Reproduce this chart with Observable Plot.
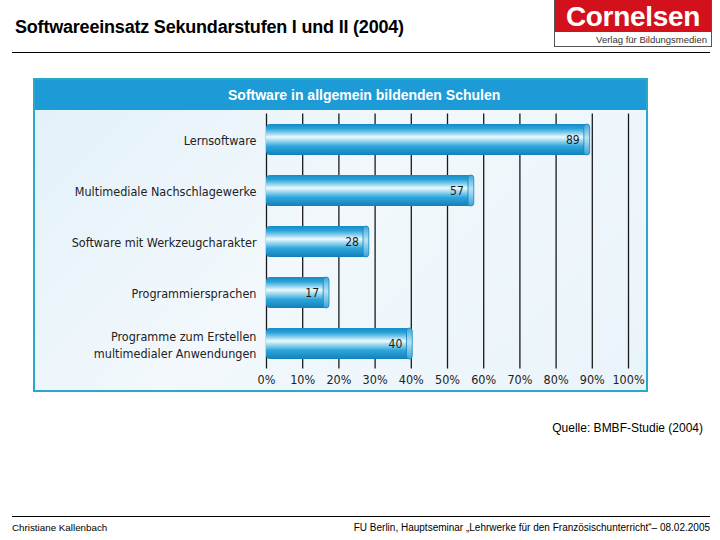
<!DOCTYPE html>
<html>
<head>
<meta charset="utf-8">
<script src="https://cdn.jsdelivr.net/npm/d3@7"></script>
<script src="https://cdn.jsdelivr.net/npm/@observablehq/plot@0.6"></script>
<style>
  html, body { margin: 0; padding: 0; background: #fff; }
  #page { position: relative; width: 720px; height: 540px; overflow: hidden; font-family: "Liberation Sans", Arial, sans-serif; }
  #title { position: absolute; left: 15px; top: 17px; font-size: 18px; font-weight: bold; color: #000; white-space: nowrap; letter-spacing: -0.2px; }
  .hr { position: absolute; height: 0; border-top: 1px solid #000; }
  #logo { position: absolute; left: 554px; top: 0px; width: 158px; height: 47px; border: 1px solid #555; border-top: none; box-sizing: border-box; background: #fff; }
  #logo .red { position: absolute; left: 0; top: 0; width: 100%; height: 32px; background: #d3111d; }
  #logo .red span { position: absolute; left: 0; top: 3px; width: 100%; color: #fff; font-weight: bold; font-size: 28px; line-height: 28px; text-align: center; letter-spacing: -0.3px; white-space: nowrap; }
  #logo .sub { position: absolute; right: 4px; top: 34px; font-size: 9.5px; color: #333; white-space: nowrap; }
  #panel { position: absolute; left: 33px; top: 78px; width: 615px; height: 314px; border: 2px solid #2aa7c9; box-sizing: border-box; background: #eaf5fb; }
  #head { position: absolute; left: 0; top: 0; width: 100%; height: 30px; background: #1d9bd7; color: #fff; font-weight: bold; font-size: 14px; line-height: 30px; }
  #head span { position: absolute; left: 193px; top: 0; white-space: nowrap; }
  #chart { position: absolute; left: 0; top: 30px; }
  #source { position: absolute; right: 17px; top: 421px; font-size: 12px; color: #000; white-space: nowrap; }
  #foot-l { position: absolute; left: 12px; top: 522px; font-size: 9.8px; color: #000; white-space: nowrap; }
  #foot-r { position: absolute; right: 10px; top: 522px; font-size: 10px; color: #000; white-space: nowrap; }
</style>
</head>
<body>
<div id="page">
  <div id="title">Softwareeinsatz Sekundarstufen I und II (2004)</div>
  <div id="logo"><div class="red"><span>Cornelsen</span></div><div class="sub">Verlag für Bildungsmedien</div></div>
  <div class="hr" style="left:12px; top:52px; width:698px;"></div>
  <div id="panel">
    <div id="head"><span>Software in allgemein bildenden Schulen</span></div>
    <div id="chart"></div>
  </div>
  <div id="source">Quelle: BMBF-Studie (2004)</div>
  <div class="hr" style="left:12px; top:516px; width:698px;"></div>
  <div id="foot-l">Christiane Kallenbach</div>
  <div id="foot-r">FU Berlin, Hauptseminar „Lehrwerke für den Französischunterricht“– 08.02.2005</div>
</div>
<script>
const categories = [
  "Lernsoftware",
  "Multimediale Nachschlagewerke",
  "Software mit Werkzeugcharakter",
  "Programmiersprachen",
  "Programme zum Erstellen\nmultimedialer Anwendungen"
];
const values = [89, 57, 28, 17, 40];
const tickValues = [0, 10, 20, 30, 40, 50, 60, 70, 80, 90, 100];

const data = categories.map((c, i) => ({category: c, value: values[i]}));
const narrow = "'Liberation Sans Narrow', 'DejaVu Sans Condensed', 'Liberation Sans', sans-serif";

const svg = Plot.plot({
  width: 611,
  height: 280,
  marginLeft: 231,
  marginRight: 18,
  marginTop: 3.5,
  marginBottom: 21.5,
  style: {background: "linear-gradient(135deg, #e3f1f9 0%, #f2f8fc 45%, #e9f4fa 100%)", fontFamily: narrow},
  x: {domain: [0, 100], ticks: tickValues, tickFormat: d => d + "%"},
  y: {domain: categories, padding: 0},
  marks: [
    Plot.ruleX(tickValues, {stroke: "#1a1a1a", strokeWidth: 1.3}),
    Plot.barX(data, {x: "value", y: "category", fill: "url(#cyl)", insetTop: 10, insetBottom: 10, rx: 4}),
    Plot.barX(data, {x1: d => d.value - 1.2, x2: d => d.value + 0.4, y: "category", fill: "url(#cap)", stroke: "#1583bd", strokeWidth: 0.8, insetTop: 10, insetBottom: 10, rx: 3}),
    Plot.text(data, {x: "value", y: "category", text: d => String(d.value), textAnchor: "end", dx: -9, fontSize: 12, fill: "#1a1a1a"}),
    Plot.axisX({ticks: tickValues, tickFormat: d => d + "%", tickSize: 0, tickPadding: 6, fontSize: 12.5, fill: "#222", label: null}),
    Plot.axisY({tickSize: 0, tickPadding: 10, fontSize: 12.5, fill: "#222", lineHeight: 1.35, label: null})
  ]
});

const defs = d3.select(svg).insert("defs", ":first-child");
const g = defs.append("linearGradient").attr("id", "cyl").attr("x1", 0).attr("y1", 0).attr("x2", 0).attr("y2", 1);
[["0%", "#168ac4"], ["15%", "#2aa3db"], ["32%", "#9fd9f1"], ["42%", "#eef9fe"], ["52%", "#a9def3"], ["72%", "#2ea6dc"], ["100%", "#137fba"]]
  .forEach(([o, c]) => g.append("stop").attr("offset", o).attr("stop-color", c));
const g2 = defs.append("linearGradient").attr("id", "cap").attr("x1", 0).attr("y1", 0).attr("x2", 0).attr("y2", 1);
[["0%", "#3aa8dc"], ["45%", "#b9e4f6"], ["100%", "#3aa5d8"]]
  .forEach(([o, c]) => g2.append("stop").attr("offset", o).attr("stop-color", c));

document.getElementById("chart").appendChild(svg);
</script>
</body>
</html>
